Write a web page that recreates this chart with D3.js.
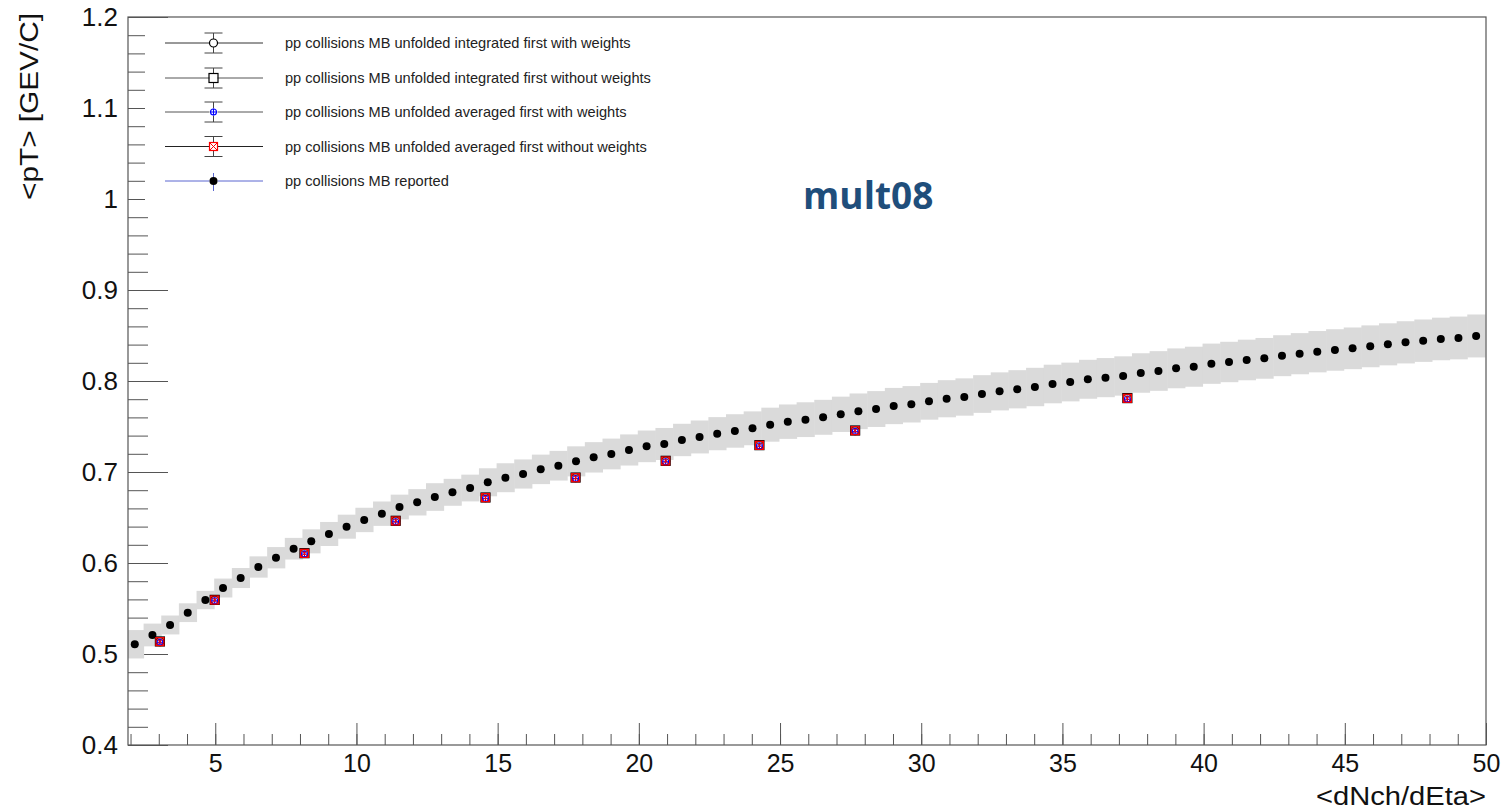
<!DOCTYPE html>
<html>
<head>
<meta charset="utf-8">
<script src="https://cdn.jsdelivr.net/npm/d3@7"></script>
<style>
  html, body { margin: 0; padding: 0; background: #fff; }
  svg { display: block; font-family: "Liberation Sans", Arial, sans-serif; }
</style>
</head>
<body>
<svg id="chart" width="1503" height="812"></svg>
<script>
// ---------------------------------------------------------------
// data
// ---------------------------------------------------------------
// reported <pT> vs <dNch/dEta>
const repX = [
  2.15, 2.775, 3.4, 4.025, 4.65, 5.275, 5.9, 6.525, 7.15, 7.775,
  8.4, 9.025, 9.65, 10.275, 10.9, 11.525, 12.15, 12.775, 13.4, 14.025,
  14.65, 15.275, 15.9, 16.525, 17.15, 17.775, 18.4, 19.025, 19.65, 20.275,
  20.9, 21.525, 22.15, 22.775, 23.4, 24.025, 24.65, 25.275, 25.9, 26.525,
  27.15, 27.775, 28.4, 29.025, 29.65, 30.275, 30.9, 31.525, 32.15, 32.775,
  33.4, 34.025, 34.65, 35.275, 35.9, 36.525, 37.15, 37.775, 38.4, 39.025,
  39.65, 40.275, 40.9, 41.525, 42.15, 42.775, 43.4, 44.025, 44.65, 45.275,
  45.9, 46.525, 47.15, 47.775, 48.4, 49.025, 49.65
];
const repY = [
  0.5107, 0.5209, 0.5319, 0.5454, 0.5593, 0.5725, 0.5835, 0.5956, 0.6058, 0.6157,
  0.6238, 0.6319, 0.6399, 0.6473, 0.6542, 0.6615, 0.6667, 0.6725, 0.6777, 0.6824,
  0.6887, 0.6937, 0.6978, 0.7029, 0.7069, 0.7117, 0.7161, 0.7198, 0.7242, 0.7282,
  0.7308, 0.7352, 0.7385, 0.7421, 0.7451, 0.7480, 0.7520, 0.7553, 0.7575, 0.7601,
  0.7634, 0.7667, 0.7692, 0.7725, 0.7744, 0.7777, 0.7805, 0.7824, 0.7857, 0.7886,
  0.7909, 0.7934, 0.7967, 0.7989, 0.8019, 0.8037, 0.8055, 0.8088, 0.8110, 0.8139,
  0.8157, 0.8190, 0.8209, 0.8231, 0.8249, 0.8278, 0.8300, 0.8322, 0.8341, 0.8359,
  0.8381, 0.8403, 0.8425, 0.8443, 0.8462, 0.8473, 0.8495
];
// systematic uncertainty (half height of grey boxes)
const repSys = [
  0.0156, 0.0125, 0.0104, 0.0103, 0.0101, 0.0104, 0.0110, 0.0117, 0.0117, 0.0119,
  0.0132, 0.0132, 0.0132, 0.0134, 0.0134, 0.0136, 0.0145, 0.0152, 0.0148, 0.0147,
  0.0154, 0.0159, 0.0160, 0.0162, 0.0163, 0.0165, 0.0167, 0.0169, 0.0171, 0.0174,
  0.0176, 0.0178, 0.0181, 0.0182, 0.0184, 0.0186, 0.0187, 0.0189, 0.0191, 0.0192,
  0.0194, 0.0196, 0.0197, 0.0199, 0.0200, 0.0202, 0.0204, 0.0205, 0.0207, 0.0209,
  0.0210, 0.0211, 0.0212, 0.0213, 0.0214, 0.0215, 0.0216, 0.0217, 0.0218, 0.0219,
  0.0220, 0.0221, 0.0222, 0.0223, 0.0224, 0.0225, 0.0226, 0.0227, 0.0228, 0.0229,
  0.0230, 0.0231, 0.0232, 0.0233, 0.0234, 0.0235, 0.0236
];
const repBinW = 0.625;

// unfolded points (four variants, nearly on top of each other)
const unfX      = [3.04, 4.98, 8.16, 11.39, 14.57, 17.76, 20.95, 24.27, 27.66, 37.30];
const intW      = [0.5136, 0.5593, 0.6106, 0.6462, 0.6718, 0.6937, 0.7121, 0.7293, 0.7454, 0.7810];
const intNoW    = [0.5138, 0.5595, 0.6108, 0.6464, 0.6720, 0.6939, 0.7123, 0.7295, 0.7456, 0.7812];
const avgW      = [0.5128, 0.5585, 0.6098, 0.6454, 0.6710, 0.6929, 0.7113, 0.7285, 0.7446, 0.7800];
const avgNoW    = [0.5136, 0.5593, 0.6106, 0.6462, 0.6718, 0.6937, 0.7121, 0.7293, 0.7454, 0.7810];
const unfErr    = [0.0020, 0.0020, 0.0020, 0.0020, 0.0020, 0.0020, 0.0020, 0.0020, 0.0020, 0.0025];

const legendLabels = [
  'pp collisions MB unfolded integrated first with weights',
  'pp collisions MB unfolded integrated first without weights',
  'pp collisions MB unfolded averaged first with weights',
  'pp collisions MB unfolded averaged first without weights',
  'pp collisions MB reported'
];
const xMajorTicks = [5, 10, 15, 20, 25, 30, 35, 40, 45, 50];
const yMajorTicks = [0.4, 0.5, 0.6, 0.7, 0.8, 0.9, 1.0, 1.1, 1.2];

// ---------------------------------------------------------------
// frame and scales
// ---------------------------------------------------------------
const W = 1503, H = 812;
const M = { left: 128, top: 17, right: 17, bottom: 67 };
const svg = d3.select('#chart');

const x = d3.scaleLinear().domain([1.91, 50]).range([M.left, W - M.right]);
const y = d3.scaleLinear().domain([0.4, 1.2]).range([H - M.bottom, M.top]);

svg.append('defs').append('clipPath').attr('id', 'plotclip')
  .append('rect')
  .attr('x', M.left).attr('y', M.top)
  .attr('width', W - M.left - M.right).attr('height', H - M.top - M.bottom);

// ---------------------------------------------------------------
// axes (ROOT style: ticks inside the frame)
// ---------------------------------------------------------------
const axisColor = '#555';
const fmtY = d => String(+d.toFixed(1));

const xMinor = d3.range(2, 51, 1);
svg.append('g')
  .attr('transform', `translate(0,${H - M.bottom})`)
  .call(d3.axisBottom(x).tickValues(xMinor).tickSize(-11).tickFormat(''))
  .call(g => g.select('.domain').remove())
  .call(g => g.selectAll('line').attr('stroke', axisColor));

svg.append('g')
  .attr('transform', `translate(0,${H - M.bottom})`)
  .call(d3.axisBottom(x).tickValues(xMajorTicks).tickSize(-22).tickPadding(9))
  .call(g => g.select('.domain').remove())
  .call(g => g.selectAll('line').attr('stroke', axisColor))
  .call(g => g.selectAll('text')
    .attr('font-size', 25).attr('fill', '#111')
    .attr('font-family', '"Liberation Sans", Arial, sans-serif'));

const yMinor = d3.range(0.4, 1.2001, 0.02);
svg.append('g')
  .attr('transform', `translate(${M.left},0)`)
  .call(d3.axisLeft(y).tickValues(yMinor).tickSize(-20).tickFormat(''))
  .call(g => g.select('.domain').remove())
  .call(g => g.selectAll('line').attr('stroke', axisColor));

svg.append('g')
  .attr('transform', `translate(${M.left},0)`)
  .call(d3.axisLeft(y).tickValues(yMajorTicks).tickSize(-40).tickPadding(10).tickFormat(fmtY))
  .call(g => g.select('.domain').remove())
  .call(g => g.selectAll('line').attr('stroke', axisColor))
  .call(g => g.selectAll('text')
    .attr('font-size', 26).attr('fill', '#111')
    .attr('font-family', '"Liberation Sans", Arial, sans-serif'));

// axis titles
svg.append('text')
  .attr('x', W - M.right).attr('y', 805)
  .attr('text-anchor', 'end')
  .attr('font-size', 25).attr('fill', '#111')
  .attr('textLength', 170).attr('lengthAdjust', 'spacingAndGlyphs')
  .text('<dNch/dEta>');

svg.append('text')
  .attr('transform', 'translate(38,13) rotate(-90)')
  .attr('text-anchor', 'end')
  .attr('font-size', 25).attr('fill', '#111')
  .attr('textLength', 187).attr('lengthAdjust', 'spacingAndGlyphs')
  .text('<pT> [GEV/C]');

// ---------------------------------------------------------------
// data layers
// ---------------------------------------------------------------
const plot = svg.append('g').attr('clip-path', 'url(#plotclip)');
const rep = repX.map((v, i) => ({ x: v, y: repY[i], s: repSys[i] }));

// systematic boxes
plot.append('g').selectAll('rect')
  .data(rep)
  .join('rect')
  .attr('x', d => x(d.x - repBinW / 2))
  .attr('width', d => x(d.x + repBinW / 2) - x(d.x - repBinW / 2) + 0.5)
  .attr('y', d => y(d.y + d.s))
  .attr('height', d => y(d.y - d.s) - y(d.y + d.s))
  .attr('fill', '#dadada');

// reported points
plot.append('g').selectAll('circle')
  .data(rep)
  .join('circle')
  .attr('cx', d => x(d.x)).attr('cy', d => y(d.y))
  .attr('r', 4)
  .attr('fill', '#000');

// marker painters
function openCircle(g, cx, cy, color) {
  g.append('circle').attr('cx', cx).attr('cy', cy).attr('r', 4)
    .attr('fill', 'none').attr('stroke', color).attr('stroke-width', 1.2);
}
function openSquare(g, cx, cy, color) {
  g.append('rect').attr('x', cx - 4.5).attr('y', cy - 4.5).attr('width', 9).attr('height', 9)
    .attr('fill', 'none').attr('stroke', color).attr('stroke-width', 1.2);
}
function crossCircle(g, cx, cy, color) {
  g.append('circle').attr('cx', cx).attr('cy', cy).attr('r', 3)
    .attr('fill', 'none').attr('stroke', color).attr('stroke-width', 1.1);
  g.append('path').attr('d', `M${cx - 3.5},${cy}H${cx + 3.5}M${cx},${cy - 3.5}V${cy + 3.5}`)
    .attr('stroke', color).attr('stroke-width', 1);
}
function squareX(g, cx, cy, color) {
  g.append('rect').attr('x', cx - 4).attr('y', cy - 4).attr('width', 8).attr('height', 8)
    .attr('fill', 'none').attr('stroke', color).attr('stroke-width', 1.2);
  g.append('path').attr('d', `M${cx - 4},${cy - 4}L${cx + 4},${cy + 4}M${cx + 4},${cy - 4}L${cx - 4},${cy + 4}`)
    .attr('stroke', color).attr('stroke-width', 1);
}
function filledDot(g, cx, cy, color) {
  g.append('circle').attr('cx', cx).attr('cy', cy).attr('r', 4).attr('fill', color);
}

const unfSeries = [
  { vals: intW,   paint: openCircle,  color: '#000', bar: '#444' },
  { vals: intNoW, paint: openSquare,  color: '#000', bar: '#444' },
  { vals: avgW,   paint: crossCircle, color: '#0000ff', bar: '#0000ff' },
  { vals: avgNoW, paint: squareX,     color: '#ff0000', bar: '#ff0000' }
];

unfSeries.forEach(s => {
  const g = plot.append('g');
  s.vals.forEach((v, i) => {
    const cx = x(unfX[i]), cy = y(v);
    g.append('line')
      .attr('x1', cx).attr('x2', cx)
      .attr('y1', y(v + unfErr[i])).attr('y2', y(v - unfErr[i]))
      .attr('stroke', s.bar).attr('stroke-width', 1);
    s.paint(g, cx, cy, s.color);
  });
});

// ---------------------------------------------------------------
// legend (white box, hides the ticks behind it)
// ---------------------------------------------------------------
svg.append('rect')
  .attr('x', 145).attr('y', 25).attr('width', 520).attr('height', 180)
  .attr('fill', '#fff');

const legRowsY = [43, 78, 112, 146.5, 181];
const legPainters = [openCircle, openSquare, crossCircle, squareX, filledDot];
const legColors = ['#000', '#000', '#0000ff', '#ff0000', '#000'];
const legLine = ['#333', '#555', '#555', '#222', '#5a66d0'];
const lx0 = 165, lx1 = 263, lmx = 213.5;

legendLabels.forEach((lab, i) => {
  const g = svg.append('g');
  const cy = legRowsY[i];
  g.append('line').attr('x1', lx0).attr('x2', lx1).attr('y1', cy).attr('y2', cy)
    .attr('stroke', legLine[i]).attr('stroke-width', 1);
  if (i < 4) {
    g.append('path')
      .attr('d', `M${lmx},${cy - 10}V${cy + 10}M${lmx - 9},${cy - 10}H${lmx + 9}M${lmx - 9},${cy + 10}H${lmx + 9}`)
      .attr('stroke', '#444').attr('stroke-width', 1).attr('fill', 'none');
  } else {
    g.append('line').attr('x1', lmx).attr('x2', lmx).attr('y1', cy - 8).attr('y2', cy + 10)
      .attr('stroke', legLine[i]).attr('stroke-width', 1);
  }
  g.append('rect').attr('x', lmx - 4).attr('y', cy - 4).attr('width', 8).attr('height', 8).attr('fill', '#fff');
  legPainters[i](g, lmx, cy, legColors[i]);
  g.append('text')
    .attr('x', 285).attr('y', cy).attr('dy', '0.35em')
    .attr('font-size', 14.6).attr('fill', '#222')
    .text(lab);
});

// ---------------------------------------------------------------
// frame + tag
// ---------------------------------------------------------------
svg.append('rect')
  .attr('x', M.left).attr('y', M.top)
  .attr('width', W - M.left - M.right).attr('height', H - M.top - M.bottom)
  .attr('fill', 'none').attr('stroke', axisColor).attr('stroke-width', 1.2);

svg.append('text')
  .attr('x', 803).attr('y', 209)
  .attr('font-family', '"Open Sans", "Noto Sans", sans-serif')
  .attr('font-weight', 'bold').attr('font-size', 37)
  .attr('fill', '#1f4e7b')
  .text('mult08');
</script>
</body>
</html>
